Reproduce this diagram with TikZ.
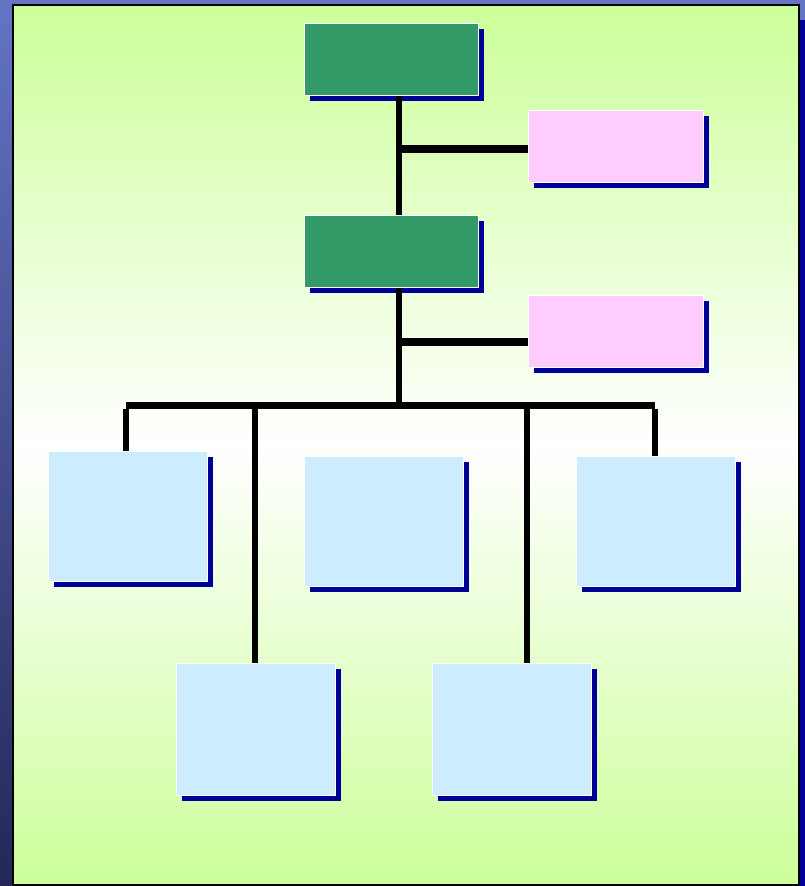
\documentclass[tikz,border=0pt]{standalone}
\usetikzlibrary{shadows}
\definecolor{boxgreen}{HTML}{339966}
\definecolor{boxpink}{HTML}{FFCCFF}
\definecolor{boxblue}{HTML}{CCECFF}
\definecolor{shadowblue}{HTML}{000099}
\definecolor{panelgreen}{HTML}{CCFF99}
\definecolor{outertop}{HTML}{6474C4}
\definecolor{outerbot}{HTML}{232858}
\tikzset{
  orgbox/.style={draw=white, line width=1.5pt, inner sep=0pt, anchor=north west,
    drop shadow={shadow xshift=6pt, shadow yshift=-6pt, fill=shadowblue, opacity=1}},
  greenbox/.style={orgbox, fill=boxgreen, minimum width=174pt, minimum height=72pt},
  pinkbox/.style={orgbox, fill=boxpink, minimum width=175pt, minimum height=72pt},
  bluebox/.style={orgbox, fill=boxblue, minimum width=159pt, minimum height=130pt},
  conn/.style={line width=6pt, black, line cap=butt, line join=miter},
  hconn/.style={line width=7.5pt, black, line cap=butt}
}
\begin{document}
\begin{tikzpicture}[x=1pt, y=-1pt]
\useasboundingbox (0,0) rectangle (805,886);
% outer background
\shade[top color=outertop, bottom color=outerbot] (0,0) rectangle (805,886);
\fill[shadowblue] (799,20) rectangle (805,886);
% panel
\shade[top color=panelgreen, bottom color=panelgreen, middle color=white] (13,5) rectangle (799,885);
\draw[black, line width=2pt] (13,5) rectangle (799,885);
% boxes
\node[greenbox] (g1) at (303.5,22.5) {};
\node[pinkbox]  (p1) at (527.5,109.5) {};
\node[greenbox] (g2) at (303.5,214.5) {};
\node[pinkbox]  (p2) at (527.5,294.5) {};
\node[bluebox]  (a)  at (47.5,450.5) {};
\node[bluebox]  (b)  at (303.5,455.5) {};
\node[bluebox]  (c)  at (575.5,455.5) {};
\node[bluebox, minimum height=132pt]  (d)  at (175.5,662.5) {};
\node[bluebox, minimum height=132pt]  (e)  at (431.5,662.5) {};
% junction coordinates
\coordinate (j1) at (398.5,149);
\coordinate (j2) at (398.5,342);
\coordinate (top) at (398.5,405.5);
\coordinate (bl) at (126,405.5);
\coordinate (br) at (655,405.5);
\coordinate (bd) at (255,405.5);
\coordinate (be) at (527,405.5);
% connectors
\draw[conn] (g1.south -| j1) -- (g2.north -| j1);
\draw[conn] (g2.south -| j2) -- (top);
\draw[hconn] (j1) -- (p1.west |- j1);
\draw[hconn] (j2) -- (p2.west |- j2);
\draw[conn, line width=7pt] (bl) -- (br);
\draw[conn] (a.north -| bl) -- ([yshift=-3.5pt]bl);
\draw[conn] (c.north -| br) -- ([yshift=-3.5pt]br);
\draw[conn] (bd) -- (d.north -| bd);
\draw[conn] (be) -- (e.north -| be);
\end{tikzpicture}
\end{document}
